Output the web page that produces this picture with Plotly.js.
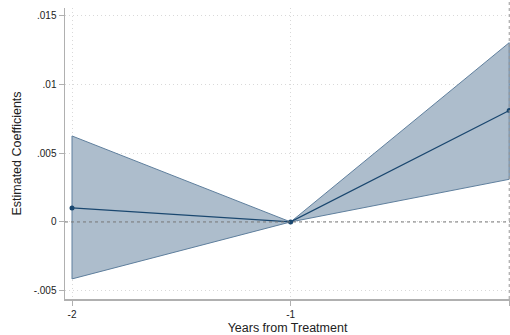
<!DOCTYPE html>
<html>
<head>
<meta charset="utf-8">
<script src="https://cdn.plot.ly/plotly-3.0.1.min.js"></script>
<style>html,body{margin:0;padding:0;background:#fff;}#chart{width:510px;height:335px;}</style>
</head>
<body>
<div id="chart"></div>
<script>
var years = [-2, -1, 0];
var coef = [0.00102, 0, 0.0081];
var ciLow = [-0.00414, 0, 0.0031];
var ciHigh = [0.00625, 0, 0.01303];
var yTickVals = [-0.005, 0, 0.005, 0.01, 0.015];
var yTickText = ['-.005', '0', '.005', '.01', '.015'];
var xTickVals = [-2, -1, 0];
var xTickText = ['-2', '-1', '0'];

var bandX = years.concat(years.slice().reverse()).concat([years[0]]);
var bandY = ciHigh.concat(ciLow.slice().reverse()).concat([ciHigh[0]]);

var traces = [
  {x: bandX, y: bandY, type: 'scatter', mode: 'lines', fill: 'toself',
   fillcolor: '#adbdcc', line: {color: '#5f7f9d', width: 1}, hoverinfo: 'skip', showlegend: false},
  {x: years, y: coef, type: 'scatter', mode: 'lines+markers',
   line: {color: '#1a476f', width: 1.3}, marker: {color: '#1a476f', size: 5}, showlegend: false}
];

var layout = {
  width: 510, height: 335,
  margin: {l: 65, r: 0, t: 8, b: 36},
  paper_bgcolor: '#fff', plot_bgcolor: '#fff',
  font: {family: 'Liberation Sans, Arial, sans-serif', color: '#222', size: 10},
  showlegend: false,
  xaxis: {
    range: [-2.032, 0.0035], tickvals: xTickVals, ticktext: xTickText,
    showgrid: true, gridcolor: '#d9d9d9', griddash: '1px,3px', gridwidth: 1,
    zeroline: false, showline: true, linecolor: '#b0b0b0', linewidth: 1.5,
    ticks: 'outside', ticklen: 5, tickcolor: '#b0b0b0', tickfont: {size: 10, color: '#222'},
    title: {text: 'Years from Treatment', font: {size: 12.5, color: '#222'}, standoff: 7}
  },
  yaxis: {
    range: [-0.0056, 0.01555], tickvals: yTickVals, ticktext: yTickText,
    showgrid: true, gridcolor: '#d9d9d9', griddash: '1px,3px', gridwidth: 1,
    zeroline: false, showline: true, linecolor: '#b0b0b0', linewidth: 1.5,
    ticks: 'outside', ticklen: 5, tickcolor: '#b0b0b0', tickfont: {size: 10, color: '#222'},
    title: {text: 'Estimated Coefficients', font: {size: 12.5, color: '#222'}, standoff: 9}
  },
  shapes: [
    {type: 'line', xref: 'paper', yref: 'y', x0: 0, x1: 1, y0: 0, y1: 0,
     line: {color: '#777', width: 1, dash: '3px,3px'}, layer: 'above'},
    {type: 'line', xref: 'x', yref: 'paper', x0: 0, x1: 0, y0: 0, y1: 1.03,
     line: {color: '#999', width: 1, dash: '3px,3px'}, layer: 'above'}
  ]
};

Plotly.newPlot('chart', traces, layout, {displayModeBar: false, staticPlot: true});
</script>
</body>
</html>
